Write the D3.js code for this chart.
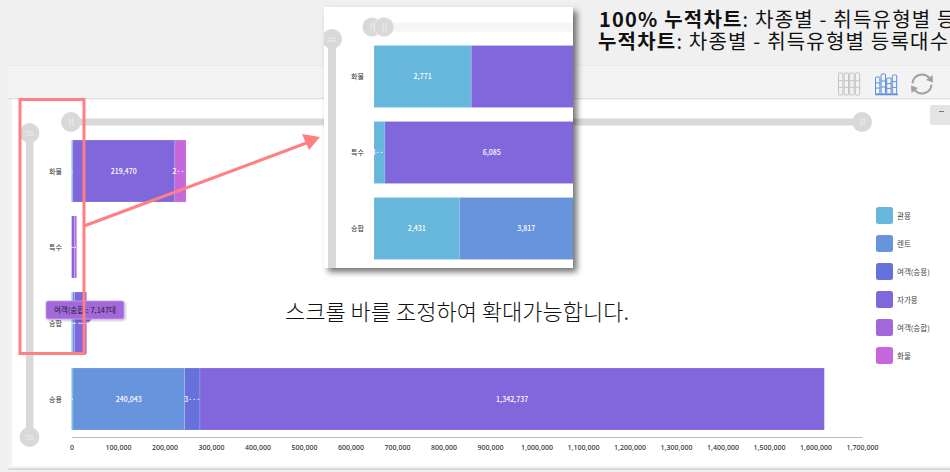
<!DOCTYPE html>
<html>
<head>
<meta charset="utf-8">
<script src="https://cdn.jsdelivr.net/npm/d3@7"></script>
<style>
  html, body { margin: 0; padding: 0; background: #f0f0f0; overflow: hidden; }
  svg { display: block; }
  text { font-family: "Noto Sans CJK KR", "Noto Sans", sans-serif; }
</style>
</head>
<body>
<script>
// values
const categories = ["화물", "특수", "승합", "승용"]
const seriesNames = ["관용", "렌트", "여객(승용)", "자가용", "여객(승합)", "화물"]
const seriesColors = ["#67b7dc", "#6794dc", "#6771dc", "#8067dc", "#a367dc", "#c767dc"]

const gwanyong = [2771, 313, 2431, 3200]
const rent = [0, 0, 3817, 240043]
const passengerCar = [0, 0, 0, 33000]
const privateUse = [219470, 6085, 19300, 1342737]
const passengerVan = [0, 0, 7147, 0]
const cargo = [24000, 4800, 0, 0]

const xTicks = d3.range(0, 1700001, 100000)
const titleLines = [
    ["100% 누적차트", ": 차종별 - 취득유형별 등"],
    ["누적차트", ": 차종별 - 취득유형별 등록대수"]
]
const note = "스크롤 바를 조정하여 확대가능합니다."
const tooltipText = "여객(승합): 7,147대"

const seriesValues = [gwanyong, rent, passengerCar, privateUse, passengerVan, cargo]
const rows = categories.map(function(c, i) {
    const row = { category: c }
    seriesNames.forEach(function(s, j) { row[s] = seriesValues[j][i] })
    return row
})
const stacked = d3.stack().keys(seriesNames)(rows)

const width = 950, height = 472
const handleGrey = "#d9d9d9"

const svg = d3.select("body").append("svg")
    .attr("width", width)
    .attr("height", height)

const defs = svg.append("defs")
const shadow = defs.append("filter").attr("id", "shadow")
    .attr("x", "-5%").attr("y", "-5%").attr("width", "115%").attr("height", "115%")
shadow.append("feDropShadow")
    .attr("dx", 4).attr("dy", 4).attr("stdDeviation", 3)
    .attr("flood-color", "#000").attr("flood-opacity", 0.55)
const tipShadow = defs.append("filter").attr("id", "tipShadow")
    .attr("x", "-10%").attr("y", "-30%").attr("width", "120%").attr("height", "170%")
tipShadow.append("feDropShadow")
    .attr("dx", 1).attr("dy", 1).attr("stdDeviation", 1)
    .attr("flood-color", "#000").attr("flood-opacity", 0.3)
const bottomShade = defs.append("linearGradient").attr("id", "bottomShade")
    .attr("x1", 0).attr("x2", 0).attr("y1", 0).attr("y2", 1)
bottomShade.append("stop").attr("offset", 0).attr("stop-color", "#fff")
bottomShade.append("stop").attr("offset", 1).attr("stop-color", "#cfcfcf")
defs.append("clipPath").attr("id", "insetClip")
    .append("rect").attr("x", 324).attr("y", 7).attr("width", 249).attr("height", 261)

// window frame behind the chart
svg.append("rect").attr("x", 8).attr("y", 65).attr("width", 942).attr("height", 403).attr("fill", "#f3f3f3")
svg.append("rect").attr("x", 8).attr("y", 65).attr("width", 942).attr("height", 1).attr("fill", "#eaeaea")
svg.append("rect").attr("x", 8).attr("y", 98).attr("width", 942).attr("height", 1.5).attr("fill", "#e0e0e0")
svg.append("rect").attr("x", 12).attr("y", 99.5).attr("width", 938).attr("height", 368).attr("fill", "#fff")
svg.append("rect").attr("x", 8).attr("y", 466).attr("width", 942).attr("height", 4).attr("fill", "url(#bottomShade)")

// titles
const title = svg.append("g").selectAll("text")
    .data(titleLines)
    .enter()
    .append("text")
        .attr("x", function(d, i) { return i == 0 ? 599 : 598 })
        .attr("y", function(d, i) { return 27 + i * 22 })
        .attr("font-size", 20)
        .attr("letter-spacing", 1.2)
        .attr("fill", "#111")
title.append("tspan").attr("font-weight", 700).text(function(d) { return d[0] })
title.append("tspan").attr("font-weight", 400).text(function(d) { return d[1] })

// toolbar icons
function stackIcon(x, color, hs, baseline) {
    const g = svg.append("g").attr("transform", "translate(" + x + ",73)")
        .attr("fill", "none").attr("stroke", color).attr("stroke-width", 1)
    hs.forEach(function(h, i) {
        const bx = 0.5 + i * 5.6
        g.append("rect").attr("x", bx).attr("y", h[0]).attr("width", 4.4).attr("height", h[1]).attr("rx", 1)
        g.append("line").attr("x1", bx).attr("x2", bx + 4.4).attr("y1", h[0] + h[1] * 0.35).attr("y2", h[0] + h[1] * 0.35)
        g.append("line").attr("x1", bx).attr("x2", bx + 4.4).attr("y1", h[0] + h[1] * 0.65).attr("y2", h[0] + h[1] * 0.65)
    })
    if (baseline) {
        g.append("line").attr("x1", 0).attr("x2", 23).attr("y1", 21.5).attr("y2", 21.5).attr("stroke-width", 1.5)
    }
}
stackIcon(838, "#c4c4c4", [[0, 22], [0, 22], [0, 22], [0, 22]], false)
stackIcon(875, "#5b8fdc", [[4, 17], [1, 20], [5, 16], [2, 19]], true)

const refresh = svg.append("g").attr("transform", "translate(922,84)")
    .attr("fill", "none").attr("stroke", "#a0a0a0").attr("stroke-width", 2)
const refreshArc = d3.arc().innerRadius(9.5).outerRadius(9.5)
refresh.append("path").attr("d", refreshArc({ startAngle: -1.5, endAngle: 0.85 }))
refresh.append("path").attr("d", refreshArc({ startAngle: 1.65, endAngle: 4.0 }))
refresh.append("path").attr("d", "M10.5,-9 L11,-1.5 L4,-4 Z").attr("fill", "#a0a0a0").attr("stroke", "none")
refresh.append("path").attr("d", "M-10.5,9 L-11,1.5 L-4,4 Z").attr("fill", "#a0a0a0").attr("stroke", "none")

// minimise button
svg.append("rect").attr("x", 930).attr("y", 105).attr("width", 22).attr("height", 20).attr("rx", 2).attr("fill", "#e4e4e4")
svg.append("rect").attr("x", 939).attr("y", 111).attr("width", 5).attr("height", 1).attr("fill", "#777")

// scales of the main chart
const x = d3.scaleLinear().domain([0, 1700000]).range([71.5, 862])
const y = d3.scaleBand().domain(categories).range([133, 437]).paddingInner(0.184).paddingOuter(0.092)

function shortLabel(value, w) {
    const full = d3.format(",")(value)
    if (full.length * 4.4 <= w - 2) return full
    return (w >= 9 ? full.slice(0, 1) : "") + "···"
}

function drawBars(parent, xs, ys, rowsShown, labelSize, xMax) {
    const layer = parent.selectAll(".layer")
        .data(stacked)
        .enter()
        .append("g")
            .attr("class", "layer")
            .attr("fill", function(d, i) { return seriesColors[i] })

    const seg = layer.selectAll("g")
        .data(function(d) {
            return d.filter(function(p) {
                return rowsShown.indexOf(p.data.category) >= 0 && p[1] > p[0] && xs(p[0]) < xMax
            })
        })
        .enter()
        .append("g")

    seg.append("rect")
        .attr("x", function(d) { return xs(d[0]) })
        .attr("y", function(d) { return ys(d.data.category) })
        .attr("width", function(d) { return xs(d[1]) - xs(d[0]) })
        .attr("height", ys.bandwidth())
        .attr("stroke", "#fff")
        .attr("stroke-opacity", 0.18)
        .attr("stroke-width", 0.8)

    // a label whose middle falls past the visible edge is not drawn
    seg.filter(function(d) { return (xs(d[0]) + xs(d[1])) / 2 < xMax })
        .append("text")
        .attr("x", function(d) { return (xs(d[0]) + xs(d[1])) / 2 })
        .attr("y", function(d) { return ys(d.data.category) + ys.bandwidth() / 2 + 2.5 })
        .attr("text-anchor", "middle")
        .attr("font-size", labelSize)
        .attr("font-weight", 500)
        .attr("fill", "#fff")
        .text(function(d) { return shortLabel(d[1] - d[0], xs(d[1]) - xs(d[0])) })
}

function handle(parent, cx, cy, r, vertical) {
    const g = parent.append("g").attr("transform", "translate(" + cx + "," + cy + ")")
    g.append("circle").attr("r", r).attr("fill", handleGrey)
    const a = vertical ? [[-4, -1.5, 8, 1], [-4, 1.5, 8, 1]] : [[-1.5, -4, 1, 8], [1.5, -4, 1, 8]]
    a.forEach(function(m) {
        g.append("rect").attr("x", m[0]).attr("y", m[1]).attr("width", m[2]).attr("height", m[3]).attr("fill", "#eee")
    })
}

// scrollbars of the main chart
svg.append("rect").attr("x", 71).attr("y", 118.5).attr("width", 791).attr("height", 7).attr("fill", handleGrey)
svg.append("rect").attr("x", 26).attr("y", 133).attr("width", 7.5).attr("height", 304).attr("fill", handleGrey)
handle(svg, 71, 122, 10, false)
handle(svg, 862, 122, 10, false)
handle(svg, 29.5, 133, 10, true)
handle(svg, 29.5, 437, 10, true)

drawBars(svg.append("g"), x, y, categories, 7, 862)

// axes
const xAxis = svg.append("g")
    .attr("transform", "translate(0,437)")
    .call(d3.axisBottom(x).tickValues(xTicks).tickSize(0).tickPadding(8).tickFormat(d3.format(",")))
xAxis.select(".domain").attr("stroke", "#bbb").attr("stroke-width", 1)
xAxis.selectAll("text").attr("font-size", 7).attr("font-weight", 500).attr("fill", "#333")
    .style("font-family", '"Noto Sans", sans-serif')

const yAxis = svg.append("g")
    .attr("transform", "translate(62,0.5)")
    .call(d3.axisLeft(y).tickSize(0).tickPadding(0))
yAxis.select(".domain").remove()
yAxis.selectAll("text").attr("font-size", 7).attr("fill", "#333")

// legend
const legendY = d3.scalePoint().domain(seriesNames).range([207, 347])
const legend = svg.append("g").selectAll("g")
    .data(seriesNames)
    .enter()
    .append("g")
        .attr("transform", function(d) { return "translate(876," + legendY(d) + ")" })
legend.append("rect")
    .attr("width", 17).attr("height", 17).attr("rx", 2.5)
    .attr("fill", function(d, i) { return seriesColors[i] })
legend.append("text")
    .attr("x", 21).attr("y", 11.5)
    .attr("font-size", 7.5).attr("fill", "#444")
    .text(function(d) { return d })

// tooltip on the 승합 bar
const tip = svg.append("g")
tip.append("path").attr("d", "M84,319 L88,323 L92,319 Z").attr("fill", "#a367dc")
tip.append("rect")
    .attr("x", 46).attr("y", 301).attr("width", 78).attr("height", 18).attr("rx", 2)
    .attr("fill", "#a367dc").attr("stroke", "#c9a6ea").attr("stroke-width", 0.8)
    .attr("filter", "url(#tipShadow)")
tip.append("text")
    .attr("x", 85).attr("y", 312.5).attr("text-anchor", "middle")
    .attr("font-size", 7.5).attr("fill", "#222")
    .text(tooltipText)

// red marker box and arrow
svg.append("rect")
    .attr("x", 20).attr("y", 99.5).attr("width", 64).attr("height", 254)
    .attr("fill", "none").attr("stroke", "#ff7f83").attr("stroke-width", 3)
svg.append("line")
    .attr("x1", 84).attr("y1", 226).attr("x2", 309).attr("y2", 142)
    .attr("stroke", "#ff7f83").attr("stroke-width", 3)
svg.append("path").attr("d", "M320,137 L302,134 L309,150 Z").attr("fill", "#ff7f83")

// zoomed-in picture of the same chart
const inset = svg.append("g")
inset.append("rect")
    .attr("x", 324).attr("y", 7).attr("width", 249).attr("height", 261)
    .attr("fill", "#fff").attr("filter", "url(#shadow)")
const insetBody = inset.append("g").attr("clip-path", "url(#insetClip)")

const xInset = d3.scaleLinear().domain([0, 10000]).range([374, 725])
const insetRows = categories.slice(0, 3)
const yInset = d3.scaleBand().domain(insetRows).range([38.5, 266.5]).paddingInner(0.184).paddingOuter(0.092)

insetBody.append("rect").attr("x", 375).attr("y", 22.5).attr("width", 198).attr("height", 9).attr("fill", "#f6f6f6")
insetBody.append("rect").attr("x", 328).attr("y", 39).attr("width", 8).attr("height", 229).attr("fill", handleGrey)
handle(insetBody, 372, 27, 9.5, false)
insetBody.append("circle").attr("cx", 384).attr("cy", 27).attr("r", 10).attr("fill", "#f4f4f4")
handle(insetBody, 384, 27, 9.5, false)
handle(insetBody, 332, 39, 10, true)

drawBars(insetBody.append("g"), xInset, yInset, insetRows, 7, 573)

const yInsetAxis = insetBody.append("g")
    .attr("transform", "translate(364,0.5)")
    .call(d3.axisLeft(yInset).tickSize(0).tickPadding(0))
yInsetAxis.select(".domain").remove()
yInsetAxis.selectAll("text").attr("font-size", 7).attr("fill", "#333")

// note under the picture
svg.append("text")
    .attr("x", 285).attr("y", 320)
    .attr("font-size", 22).attr("font-weight", 300).attr("fill", "#111")
    .text(note)
</script>
</body>
</html>
